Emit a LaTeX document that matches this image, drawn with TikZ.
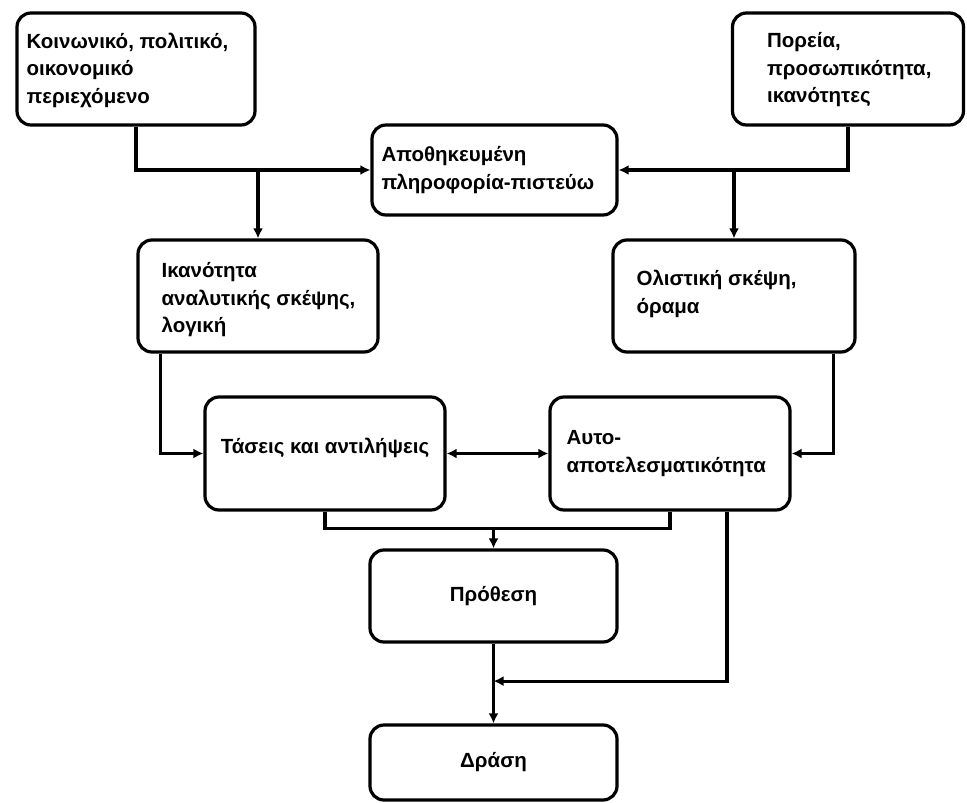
\documentclass[tikz,border=0pt]{standalone}
\usepackage{fontspec}
\setmainfont{Liberation Sans}
\usetikzlibrary{arrows.meta,calc}

\begin{document}
\begin{tikzpicture}[x=1pt,y=-1pt,
  box/.style={draw=black, line width=3.2pt, rounded corners=14pt, inner sep=0pt, fill=white},
  label/.style={anchor=west, align=left, inner sep=0pt,
    font=\fontsize{20.5}{27.5}\selectfont\bfseries},
  clabel/.style={align=center, inner sep=0pt,
    font=\fontsize{20.5}{27.5}\selectfont\bfseries},
  conn/.style={draw=black, line width=3.2pt},
  arr/.style={conn, -{Latex[length=10pt,width=10pt]}},
  darr/.style={conn, {Latex[length=10pt,width=10pt]}-{Latex[length=10pt,width=10pt]}}
]
\useasboundingbox (0,0) rectangle (967,803);

% boxes
\node[box, minimum width=238pt, minimum height=112pt] (b1) at (136,69) {};
\node[box, minimum width=231pt, minimum height=112pt] (b2) at (848,69) {};
\node[box, minimum width=245pt, minimum height=90pt]  (b3) at (494.5,170) {};
\node[box, minimum width=240pt, minimum height=112pt] (b4) at (258,296) {};
\node[box, minimum width=242pt, minimum height=112pt] (b5) at (734,296) {};
\node[box, minimum width=240pt, minimum height=113pt] (b6) at (325,453.5) {};
\node[box, minimum width=240pt, minimum height=113pt] (b7) at (670,453.5) {};
\node[box, minimum width=247pt, minimum height=92pt]  (b8) at (493.5,596) {};
\node[box, minimum width=247pt, minimum height=75pt]  (b9) at (493.5,762.5) {};

% texts
\node[label] (t1) at ($(b1.west)+(11,1)$) {Κοινωνικό, πολιτικό,\\οικονομικό\\περιεχόμενο};
\node[label] (t2) at ($(b2.west)+(36,1)$) {Πορεία,\\προσωπικότητα,\\ικανότητες};
\node[label] (t3) at ($(b3.west)+(11,0)$) {Αποθηκευμένη\\πληροφορία-πιστεύω};
\node[label] (t4) at ($(b4.west)+(25,4)$) {Ικανότητα\\αναλυτικής σκέψης,\\λογική};
\node[label] (t5) at ($(b5.west)+(25,-2)$) {Ολιστική σκέψη,\\όραμα};
\node[clabel] (t6) at ($(b6.center)+(0,-6)$) {Τάσεις και αντιλήψεις};
\node[label] (t7) at ($(b7.west)+(18,0)$) {Αυτο-\\αποτελεσματικότητα};
\node[clabel] (t8) at (b8.center) {Πρόθεση};
\node[clabel] (t9) at (b9.center) {Δράση};

% junction points
\coordinate (j4) at ($(b4.south west)+(24,0)$);
\coordinate (j5) at ($(b5.south east)+(-23,0)$);
\coordinate (j7) at ($(b7.south)+(57,0)$);
\coordinate (m1) at ($(b8.north)+(0,-20)$);
\coordinate (m2) at ($(b8.south)!0.47!(b9.north)$);

% connectors
\draw[arr] (b1.south) |- (b3.west);
\draw[arr] (b4.north |- b3.west) -- (b4.north);
\draw[arr] (b2.south) |- (b3.east);
\draw[arr] (b5.north |- b3.east) -- (b5.north);
\draw[arr] (j4) |- (b6.west);
\draw[arr] (j5) |- (b7.east);
\draw[darr] (b6.east) -- (b7.west);
\draw[conn] (b6.south) |- (m1);
\draw[conn] (b7.south) |- (m1);
\draw[arr] (m1) -- (b8.north);
\draw[arr] (j7) |- (m2);
\draw[arr] (b8.south) -- (b9.north);
\end{tikzpicture}
\end{document}
